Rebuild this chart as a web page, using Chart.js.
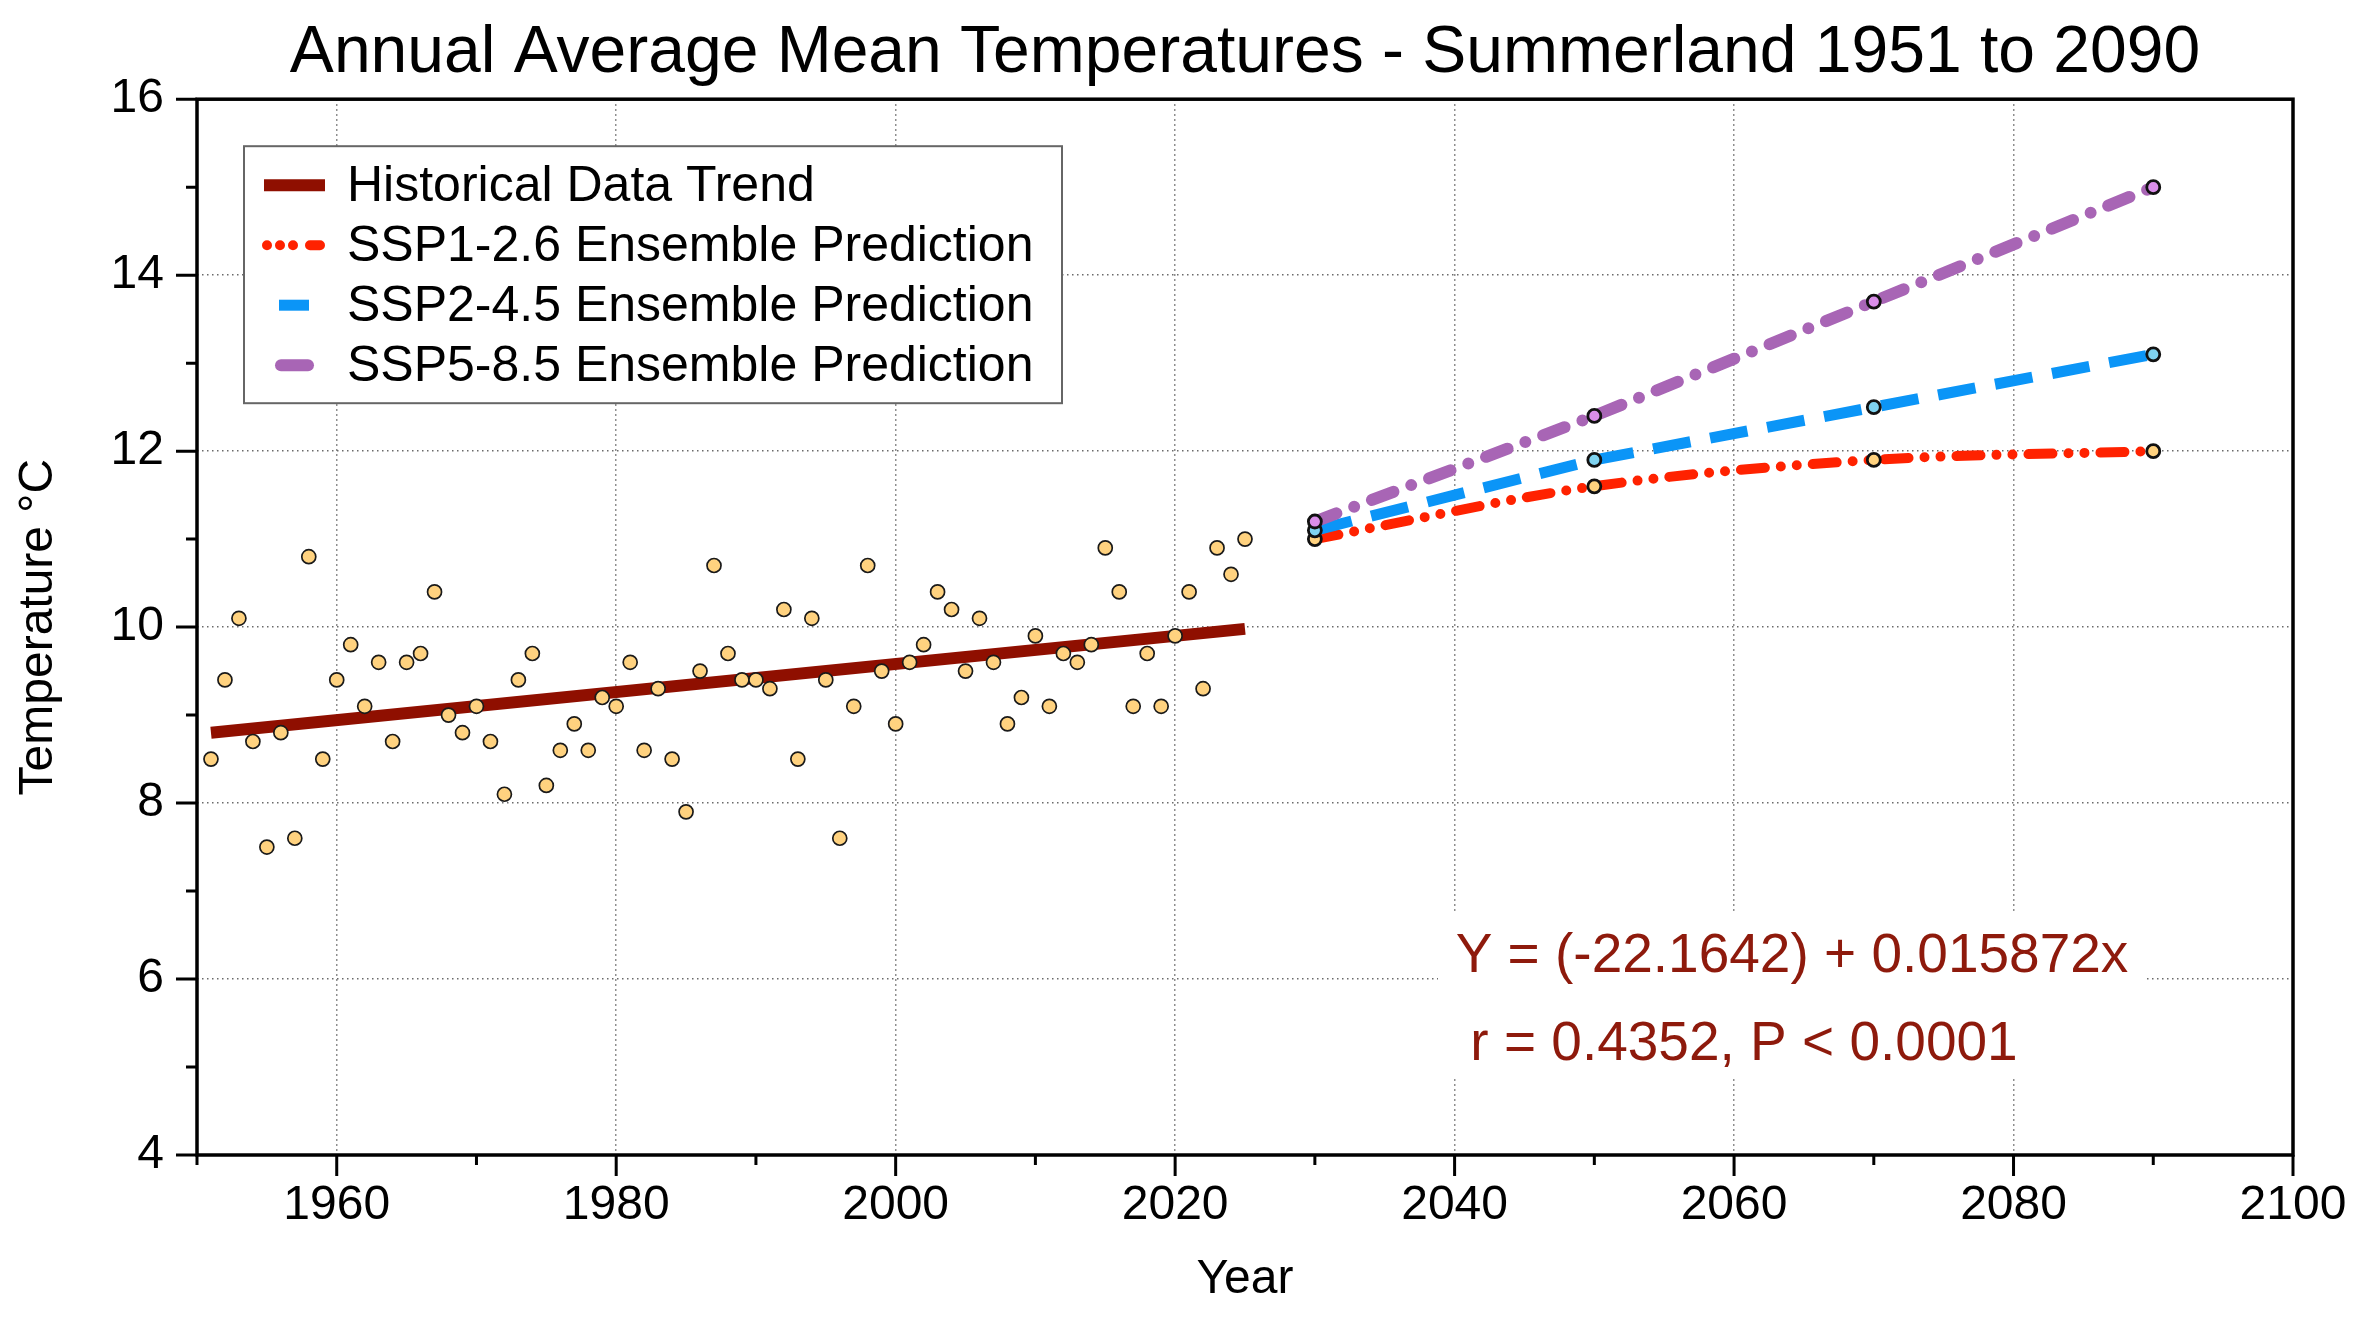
<!DOCTYPE html>
<html><head><meta charset="utf-8">
<script src="https://cdn.jsdelivr.net/npm/chart.js@4.4.1/dist/chart.umd.min.js"></script>
<style>html,body{margin:0;padding:0;background:#fff;}canvas{display:block;}</style>
</head><body>
<canvas id="c" width="2360" height="1328" style="width:2360px;height:1328px"></canvas>
<script>
const titleText = 'Annual Average Mean Temperatures - Summerland 1951 to 2090';
const xAxisTitle = 'Year';
const yAxisTitle = 'Temperature °C';
const histYears = [1951,1952,1953,1954,1955,1956,1957,1958,1959,1960,1961,1962,1963,1964,1965,1966,1967,1968,1969,1970,
  1971,1972,1973,1974,1975,1976,1977,1978,1979,1980,1981,1982,1983,1984,1985,1986,1987,1988,1989,1990,
  1991,1992,1993,1994,1995,1996,1997,1998,1999,2000,2001,2002,2003,2004,2005,2006,2007,2008,2009,2010,
  2011,2012,2013,2014,2015,2016,2017,2018,2019,2020,2021,2022,2023,2024,2025];
const histTemps = [8.5,9.4,10.1,8.7,7.5,8.8,7.6,10.8,8.5,9.4,9.8,9.1,9.6,8.7,9.6,9.7,10.4,9.0,8.8,9.1,
  8.7,8.1,9.4,9.7,8.2,8.6,8.9,8.6,9.2,9.1,9.6,8.6,9.3,8.5,7.9,9.5,10.7,9.7,9.4,9.4,
  9.3,10.2,8.5,10.1,9.4,7.6,9.1,10.7,9.5,8.9,9.6,9.8,10.4,10.2,9.5,10.1,9.6,8.9,9.2,9.9,
  9.1,9.7,9.6,9.8,10.9,10.4,9.1,9.7,9.1,9.9,10.4,9.3,10.9,10.6,11.0];
const trendYears = [1951, 2025];
const trendTemps = [8.80, 9.98];
const projYears = [2030, 2050, 2070, 2090];
const ssp126 = [11.0, 11.6, 11.9, 12.0];
const ssp245 = [11.1, 11.9, 12.5, 13.1];
const ssp585 = [11.2, 12.4, 13.7, 15.0];
const seriesLabels = ['Historical Data Trend', 'SSP1-2.6 Ensemble Prediction', 'SSP2-4.5 Ensemble Prediction', 'SSP5-8.5 Ensemble Prediction'];
const xRange = [1950, 2100];
const yRange = [4, 16];
const equationLines = ['Y = (-22.1642) + 0.015872x', 'r = 0.4352, P < 0.0001'];

const FONT = "'Liberation Sans', Arial, Helvetica, sans-serif";
Chart.defaults.font.family = FONT;
Chart.defaults.color = '#000';

const pts = (xs, ys) => xs.map((x, i) => ({x: x, y: ys[i]}));

const C = {
  trend: '#8F0F00', red: '#FF2200', blue: '#0B95F7', purple: '#A865B5',
  dot: '#FFD27F', dotPurple: '#DA8EE9', dotBlue: '#7FD3F0'
};

const decor = {
  id: 'decor',
  beforeDatasetsDraw(chart) {
    const {ctx, chartArea: a} = chart;
    ctx.save();
    ctx.fillStyle = '#fff';
    ctx.fillRect(a.left + 1241, a.top + 814, 709, 165);
    ctx.fillStyle = '#8E1A0C';
    ctx.font = '55px ' + FONT;
    ctx.textAlign = 'center';
    ctx.textBaseline = 'middle';
    ctx.fillText(equationLines[0], a.left + 1595, a.top + 858);
    ctx.fillText(equationLines[1], a.left + 1547, a.top + 946);
    ctx.restore();
  },
  afterDraw(chart) {
    const {ctx, chartArea: a} = chart;
    const sx = chart.scales.x, sy = chart.scales.y;
    ctx.save();
    ctx.strokeStyle = '#000';
    ctx.lineWidth = 3.5;
    ctx.strokeRect(a.left, a.top, a.right - a.left, a.bottom - a.top);
    ctx.lineWidth = 3;
    ctx.beginPath();
    sx.ticks.forEach(t => {
      const p = sx.getPixelForValue(t.value);
      const len = t.value % 20 === 0 ? 21 : 10;
      ctx.moveTo(p, a.bottom); ctx.lineTo(p, a.bottom + len);
    });
    sy.ticks.forEach(t => {
      const p = sy.getPixelForValue(t.value);
      const len = t.value % 2 === 0 ? 21 : 11;
      ctx.moveTo(a.left - len, p); ctx.lineTo(a.left, p);
    });
    ctx.stroke();
    const lx = a.left + 47, ly = a.top + 47, lw = 818, lh = 257;
    ctx.fillStyle = '#fff';
    ctx.fillRect(lx, ly, lw, lh);
    ctx.strokeStyle = '#666';
    ctx.lineWidth = 2;
    ctx.strokeRect(lx, ly, lw, lh);
    const rows = [39, 99, 159, 219];
    const s0 = lx + 20, s1 = lx + 81;
    ctx.font = '50px ' + FONT;
    ctx.fillStyle = '#000';
    ctx.textAlign = 'left';
    ctx.textBaseline = 'middle';
    rows.forEach((dy, i) => ctx.fillText(seriesLabels[i], lx + 103, ly + dy + 2));
    let y;
    y = ly + rows[0];
    ctx.strokeStyle = C.trend; ctx.lineWidth = 12; ctx.lineCap = 'butt'; ctx.setLineDash([]);
    ctx.beginPath(); ctx.moveTo(s0, y); ctx.lineTo(s1, y); ctx.stroke();
    y = ly + rows[1];
    ctx.strokeStyle = C.red; ctx.lineWidth = 10; ctx.lineCap = 'round';
    ctx.setLineDash([0, 13, 0, 13, 0, 17, 14, 100]);
    ctx.beginPath(); ctx.moveTo(s0 + 3, y); ctx.lineTo(s1 - 5, y); ctx.stroke();
    y = ly + rows[2];
    ctx.strokeStyle = C.blue; ctx.lineWidth = 11; ctx.lineCap = 'butt'; ctx.setLineDash([]);
    ctx.beginPath(); ctx.moveTo(s0 + 15, y); ctx.lineTo(s1 - 16, y); ctx.stroke();
    y = ly + rows[3];
    ctx.strokeStyle = C.purple; ctx.lineWidth = 12; ctx.lineCap = 'round';
    ctx.beginPath(); ctx.moveTo(s0 + 17, y); ctx.lineTo(s1 - 17, y); ctx.stroke();
    ctx.restore();
  }
};

new Chart(document.getElementById('c'), {
  type: 'scatter',
  data: {
    datasets: [
      {
        label: 'Observed', data: pts(histYears, histTemps), showLine: false,
        pointRadius: 7, pointBackgroundColor: C.dot, pointBorderColor: '#1a1a1a', pointBorderWidth: 1.7
      },
      {
        label: seriesLabels[3], data: pts(projYears, ssp585), showLine: true,
        borderColor: C.purple, borderWidth: 12, borderDash: [23, 19, 0, 19], borderCapStyle: 'round',
        pointRadius: 6.5, pointBackgroundColor: C.dotPurple, pointBorderColor: '#111', pointBorderWidth: 2.8, tension: 0
      },
      {
        label: seriesLabels[2], data: pts(projYears, ssp245), showLine: true,
        borderColor: C.blue, borderWidth: 11, borderDash: [38, 20], borderCapStyle: 'butt',
        pointRadius: 6.5, pointBackgroundColor: C.dotBlue, pointBorderColor: '#111', pointBorderWidth: 2.8, tension: 0
      },
      {
        label: seriesLabels[1], data: pts(projYears, ssp126), showLine: true,
        borderColor: C.red, borderWidth: 10, borderDash: [24, 16, 0, 16, 0, 16], borderCapStyle: 'round',
        cubicInterpolationMode: 'monotone',
        pointRadius: 6.5, pointBackgroundColor: C.dot, pointBorderColor: '#111', pointBorderWidth: 2.8
      },
      {
        label: seriesLabels[0], data: pts(trendYears, trendTemps), showLine: true,
        borderColor: C.trend, borderWidth: 12, borderCapStyle: 'butt', pointRadius: 0, tension: 0
      }
    ]
  },
  options: {
    responsive: false, animation: false, devicePixelRatio: 1, events: [],
    layout: {padding: {left: 0, right: 67, top: 0, bottom: 0}},
    plugins: {
      legend: {display: false}, tooltip: {enabled: false},
      title: {display: true, text: titleText, color: '#000', fullSize: false,
        font: {size: 66, weight: 'normal', family: FONT}, padding: {top: 14, bottom: 6}}
    },
    scales: {
      x: {
        type: 'linear', min: xRange[0], max: xRange[1],
        afterFit: s => { s.height = 173; s.paddingLeft = 0; s.paddingRight = 0; },
        ticks: {stepSize: 10, autoSkip: false, maxRotation: 0, padding: 22,
          font: {size: 48}, color: '#000',
          callback: v => (v % 20 === 0 ? String(v) : '')},
        grid: {drawTicks: false, lineWidth: 1.5,
          color: c => (c.tick && c.tick.value % 20 === 0 ? '#6a6a6a' : 'rgba(0,0,0,0)')},
        border: {display: false, dash: [1.5, 3.5]},
        title: {display: true, text: xAxisTitle, font: {size: 48}, color: '#000', padding: {top: 0, bottom: 19}}
      },
      y: {
        type: 'linear', min: yRange[0], max: yRange[1],
        afterFit: s => { s.width = 197; s.paddingTop = 0; s.paddingBottom = 0; },
        ticks: {stepSize: 1, autoSkip: false, padding: 33, font: {size: 48}, color: '#000',
          callback: v => (v % 2 === 0 ? String(v) : '')},
        grid: {drawTicks: false, lineWidth: 1.5,
          color: c => (c.tick && c.tick.value % 2 === 0 ? '#6a6a6a' : 'rgba(0,0,0,0)')},
        border: {display: false, dash: [1.5, 3.5]},
        title: {display: true, text: yAxisTitle, font: {size: 48}, color: '#000', padding: {top: 10, bottom: 0}}
      }
    }
  },
  plugins: [decor]
});
</script>
</body></html>
